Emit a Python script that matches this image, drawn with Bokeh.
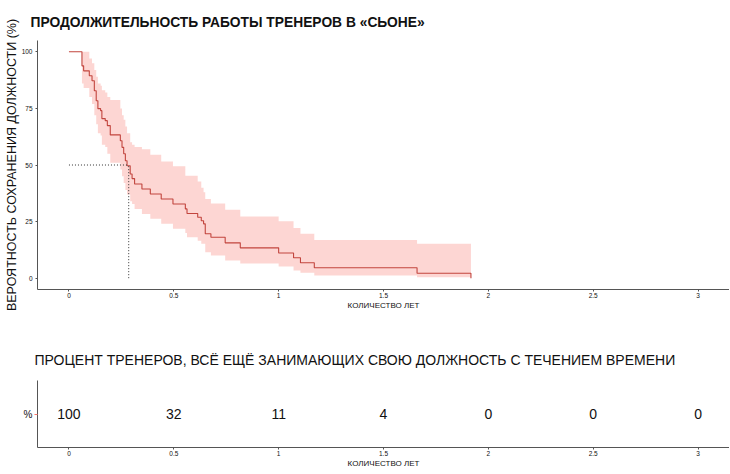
from bokeh.plotting import figure
from bokeh.layouts import column
from bokeh.models import Range1d, FixedTicker, NumeralTickFormatter
from bokeh.embed import file_html
from bokeh.resources import INLINE
from bokeh.core.properties import value

# ---- data ----
times = [0.000, 0.062, 0.070, 0.097, 0.110, 0.121, 0.130, 0.138, 0.151, 0.157,
         0.173, 0.183, 0.197, 0.245, 0.253, 0.261, 0.269, 0.277, 0.292, 0.301,
         0.313, 0.348, 0.388, 0.440, 0.496, 0.555, 0.563, 0.614, 0.631, 0.642,
         0.650, 0.677, 0.745, 0.817, 1.000, 1.071, 1.104, 1.170, 1.660, 1.917]
surv = [100, 93.8, 91.6, 89.4, 87.2, 82.8, 78.4, 74.9, 74.0, 70.5,
        69.6, 67.4, 63.3, 60.7, 57.8, 55.0, 51.9, 49.7, 46.0, 44.0,
        41.6, 39.4, 37.2, 35.0, 32.8, 30.6, 28.6, 26.9, 25.4, 24.0,
        19.6, 18.1, 15.6, 13.4, 11.1, 9.0, 6.8, 4.6, 2.2, 0.0]
upper = [100, 100, 100, 97, 95, 92, 89, 86, 85, 83,
         82, 80, 78.7, 75, 72, 70, 67, 64, 60, 59,
         58, 57, 54.5, 51.6, 49.4, 45.3, 45.3, 42.7, 40, 38,
         35, 33, 30.2, 27.2, 25.2, 22.2, 19.6, 16.9, 15.2, 15.2]
lower = [100, 86, 84, 80, 77, 72, 68, 64, 63, 59,
         58, 55, 51, 48, 45, 42, 39, 37, 34, 32.8,
         30.6, 28.4, 26.2, 24.0, 21.8, 20.0, 18.1, 16.5, 15.2, 15.2,
         11.5, 10.0, 7.8, 6.5, 5.2, 3.4, 2.4, 1.2, 0.4, 0.4]
median_time = 0.285
median_surv = 50

x_ticks = [0, 0.5, 1, 1.5, 2, 2.5, 3]
y_ticks = [0, 25, 50, 75, 100]

risk_times = [0, 0.5, 1, 1.5, 2, 2.5, 3]
risk_pct = [100, 32, 11, 4, 0, 0, 0]
risk_row = ["%"]

TITLE_TOP = "ПРОДОЛЖИТЕЛЬНОСТЬ РАБОТЫ ТРЕНЕРОВ В «СЬОНЕ»"
TITLE_BOTTOM = "ПРОЦЕНТ ТРЕНЕРОВ, ВСЁ ЕЩЁ ЗАНИМАЮЩИХ СВОЮ ДОЛЖНОСТЬ С ТЕЧЕНИЕМ ВРЕМЕНИ"

FONT = "Liberation Sans"
AXIS_COLOR = "#555555"
LINE_COLOR = "#C2453E"
BAND_COLOR = "#F8766D"


def style_axes(p):
    p.xgrid.visible = False
    p.ygrid.visible = False
    p.outline_line_color = None
    for ax in (p.xaxis[0], p.yaxis[0]):
        ax.axis_line_color = AXIS_COLOR
        ax.major_tick_line_color = AXIS_COLOR
        ax.minor_tick_line_color = None
        ax.major_tick_in = 0
        ax.major_tick_out = 2
        ax.major_label_standoff = 1
        ax.major_label_text_font = FONT
        ax.major_label_text_font_size = "6.5px"
        ax.major_label_text_color = "#111111"
        ax.axis_label_text_font = FONT
        ax.axis_label_text_font_style = "normal"
        ax.axis_label_text_color = "#111111"


# ---- top panel: survival curve ----
p1 = figure(width=729, height=315,
            x_range=Range1d(-0.15, 3.15), y_range=Range1d(-5, 105),
            output_backend="svg", toolbar_location=None,
            min_border_left=37, min_border_right=0,
            min_border_top=40, min_border_bottom=26)
p1.title.text = TITLE_TOP
p1.title.text_font = FONT
p1.title.text_font_size = "13.8px"
p1.title.text_font_style = "bold"
p1.title.text_color = "#111111"
p1.title.text_line_height = 0.6
p1.title.align = "left"
p1.title.offset = -7
p1.title.standoff = 22
style_axes(p1)
p1.xaxis.ticker = FixedTicker(ticks=x_ticks)
p1.xaxis.formatter = NumeralTickFormatter(format="0.[0]")
p1.yaxis.ticker = FixedTicker(ticks=y_ticks)
p1.yaxis.major_label_standoff = 3
p1.xaxis.axis_label = "КОЛИЧЕСТВО ЛЕТ"
p1.xaxis.axis_label_text_font_size = "8px"
p1.xaxis.axis_label_standoff = 0
p1.yaxis.axis_label = "ВЕРОЯТНОСТЬ СОХРАНЕНИЯ ДОЛЖНОСТИ (%)"
p1.yaxis.axis_label_text_font_size = "12.5px"
p1.yaxis.axis_label_standoff = 0

p1.varea_step(x=times, y1=lower, y2=upper, step_mode="after",
              fill_color=BAND_COLOR, fill_alpha=0.3)
p1.step(x=times, y=surv, mode="after", line_color=LINE_COLOR, line_width=1.1)
p1.line(x=[0, median_time], y=[median_surv, median_surv],
        line_color="#333333", line_dash="1 2", line_width=1)
p1.line(x=[median_time, median_time], y=[0, median_surv],
        line_color="#333333", line_dash="1 2", line_width=1)

# ---- bottom panel: percentage table ----
p2 = figure(width=729, height=157,
            x_range=Range1d(-0.15, 3.15), y_range=risk_row,
            output_backend="svg", toolbar_location=None,
            min_border_left=33, min_border_right=0,
            min_border_top=65, min_border_bottom=25)
p2.title.text = TITLE_BOTTOM
p2.title.text_font = FONT
p2.title.text_font_size = "14px"
p2.title.text_font_style = "normal"
p2.title.text_color = "#111111"
p2.title.align = "left"
p2.title.offset = -3
p2.title.standoff = 26
style_axes(p2)
p2.xaxis.ticker = FixedTicker(ticks=x_ticks)
p2.xaxis.formatter = NumeralTickFormatter(format="0.[0]")
p2.xaxis.axis_label = "КОЛИЧЕСТВО ЛЕТ"
p2.xaxis.axis_label_text_font_size = "8px"
p2.xaxis.axis_label_standoff = 0
p2.yaxis.major_label_text_font_size = "10px"
p2.yaxis.major_tick_line_color = BAND_COLOR
p2.yaxis.major_tick_out = 3
p2.yaxis.major_label_standoff = 2

p2.text(x=risk_times, y=[risk_row[0]] * len(risk_times),
        text=[str(v) for v in risk_pct],
        text_align="center", text_baseline="middle",
        text_font=value(FONT), text_font_size="14px", text_color="#111111")

layout = column(p1, p2)
open("out.html", "w").write(file_html(layout, INLINE))
